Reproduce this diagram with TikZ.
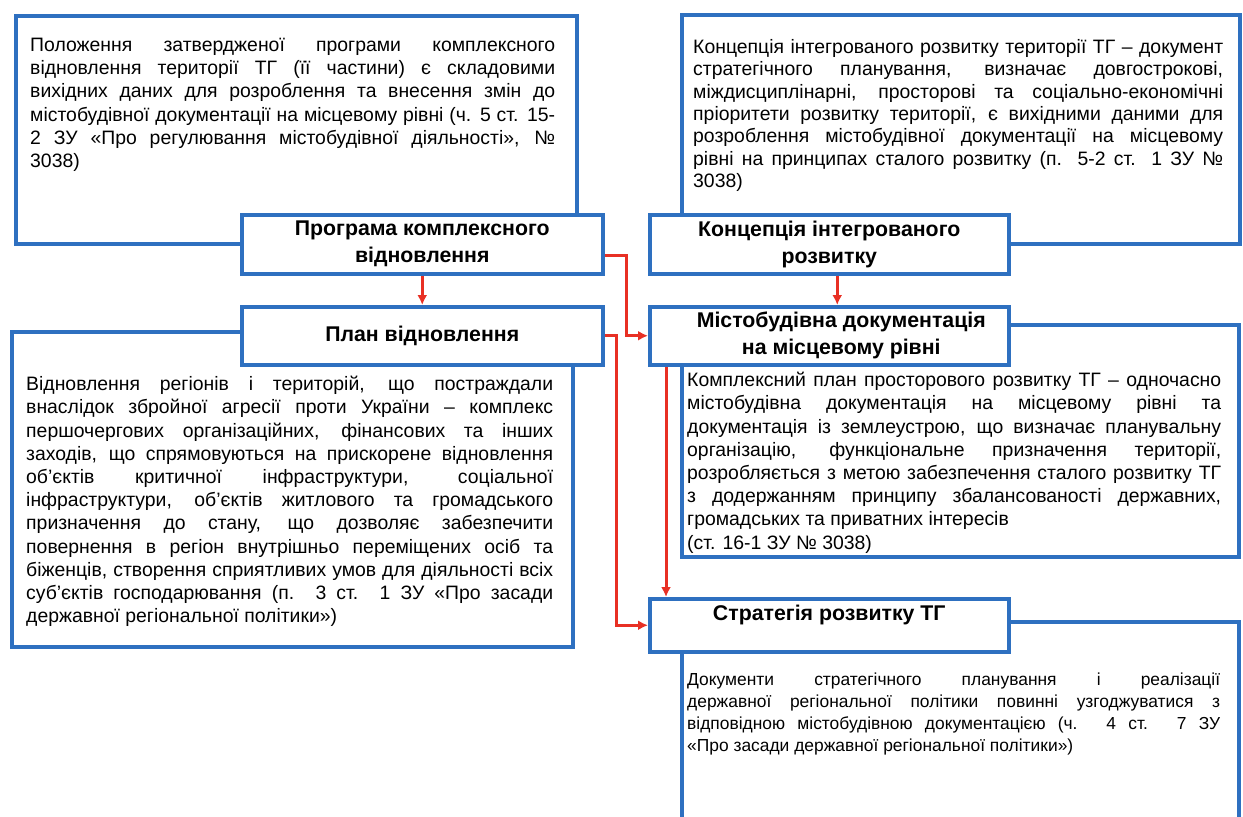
\documentclass[tikz,border=0pt]{standalone}
\usepackage{fontspec}
\setmainfont{Liberation Sans}
\usetikzlibrary{arrows.meta}
\definecolor{boxblue}{RGB}{46,112,192}
\definecolor{linkred}{RGB}{232,48,36}
\newcommand{\bodyfont}{\fontsize{19.4}{23.2}\selectfont}
\newcommand{\smallbodyfont}{\fontsize{17.4}{21.8}\selectfont}
\newcommand{\titlefont}{\fontsize{21.3}{27}\selectfont\bfseries}
\tolerance=10000
\hyphenpenalty=10000
\exhyphenpenalty=10000
\begin{document}
\begin{tikzpicture}[x=1pt,y=-1pt]
\tikzstyle{infobox}=[draw=boxblue,line width=3.5pt,fill=white,anchor=north west,inner sep=0pt]
\tikzstyle{titlebox}=[infobox,align=center,font=\titlefont]
\tikzstyle{bodytext}=[anchor=north west,inner sep=0pt,align=justify,font=\bodyfont]
\tikzstyle{link}=[draw=linkred,line width=3pt,-{Latex[length=10pt,width=10pt]}]

\useasboundingbox (0,0) rectangle (1243,817);

\node[infobox,minimum width=561pt,minimum height=228pt] (progbox) at (14,14) {};
\node[infobox,minimum width=558pt,minimum height=229pt] (konbox) at (680,13) {};
\node[infobox,minimum width=561pt,minimum height=315pt] (planbox) at (10,330) {};
\node[infobox,minimum width=557pt,minimum height=232pt] (mistbox) at (680,323) {};
\node[infobox,minimum width=557pt,minimum height=240pt] (stratbox) at (680,620) {};

\node[bodytext,text width=525pt] (progtext) at (30,38) {Положення затвердженої програми комплексного\linebreak
відновлення території ТГ (її частини) є складовими\linebreak
вихідних даних для розроблення та внесення змін до\linebreak
містобудівної документації на місцевому рівні (ч. 5 ст. 15-\linebreak
2 ЗУ «Про регулювання містобудівної діяльності», №\linebreak
3038)};
\node[bodytext,text width=530pt,font=\fontsize{19.4}{22.4}\selectfont] (kontext) at (693,39) {Концепція інтегрованого розвитку території ТГ – документ\linebreak
стратегічного планування, визначає довгострокові,\linebreak
міждисциплінарні, просторові та соціально-економічні\linebreak
пріоритети розвитку території, є вихідними даними для\linebreak
розроблення містобудівної документації на місцевому\linebreak
рівні на принципах сталого розвитку (п. 5-2 ст. 1 ЗУ №\linebreak
3038)};
\node[bodytext,text width=527pt] (plantext) at (26,376) {Відновлення регіонів і територій, що постраждали\linebreak
внаслідок збройної агресії проти України – комплекс\linebreak
першочергових організаційних, фінансових та інших\linebreak
заходів, що спрямовуються на прискорене відновлення\linebreak
об’єктів критичної інфраструктури, соціальної\linebreak
інфраструктури, об’єктів житлового та громадського\linebreak
призначення до стану, що дозволяє забезпечити\linebreak
повернення в регіон внутрішньо переміщених осіб та\linebreak
біженців, створення сприятливих умов для діяльності всіх\linebreak
суб’єктів господарювання (п. 3 ст. 1 ЗУ «Про засади\linebreak
державної регіональної політики»)};
\node[bodytext,text width=534pt] (misttext) at (687,372) {Комплексний план просторового розвитку ТГ – одночасно\linebreak
містобудівна документація на місцевому рівні та\linebreak
документація із землеустрою, що визначає планувальну\linebreak
організацію, функціональне призначення території,\linebreak
розробляється з метою забезпечення сталого розвитку ТГ\linebreak
з додержанням принципу збалансованості державних,\linebreak
громадських та приватних інтересів\newline
(ст. 16-1 ЗУ № 3038)};
\node[bodytext,font=\smallbodyfont,text width=533pt] (strattext) at (687,673) {Документи стратегічного планування і реалізації\linebreak
державної регіональної політики повинні узгоджуватися з\linebreak
відповідною містобудівною документацією (ч. 4 ст. 7 ЗУ\linebreak
«Про засади державної регіональної політики»)};

\node[titlebox,minimum width=361pt,minimum height=59pt] (progtitle) at (240,213) {Програма комплексного\\відновлення};
\node[titlebox,minimum width=359pt,minimum height=59pt] (kontitle) at (648,213) {Концепція інтегрованого\\розвитку};
\node[titlebox,minimum width=361pt,minimum height=58pt] (plantitle) at (240,305) {План відновлення};
\node[titlebox,minimum width=359pt,minimum height=58pt] (misttitle) at (648,305) {\hspace*{24pt}Містобудівна документація\\\hspace*{24pt}на місцевому рівні};
\node[titlebox,minimum width=359pt,minimum height=53pt,text depth=24pt] (strattitle) at (648,597) {Стратегія розвитку ТГ};

\draw[link] (progtitle) -- (plantitle);
\draw[link] ([xshift=8pt]kontitle.south) -- ([xshift=8pt]misttitle.north);
\draw[link] ([yshift=-11pt]progtitle.east) -- ++(22,0) |- (misttitle.west);
\draw[link] (plantitle.east) -- ++(12,0) |- (strattitle.west);
\draw[link] ([xshift=18pt]misttitle.south west) -- ([xshift=18pt]strattitle.north west);
\end{tikzpicture}
\end{document}
